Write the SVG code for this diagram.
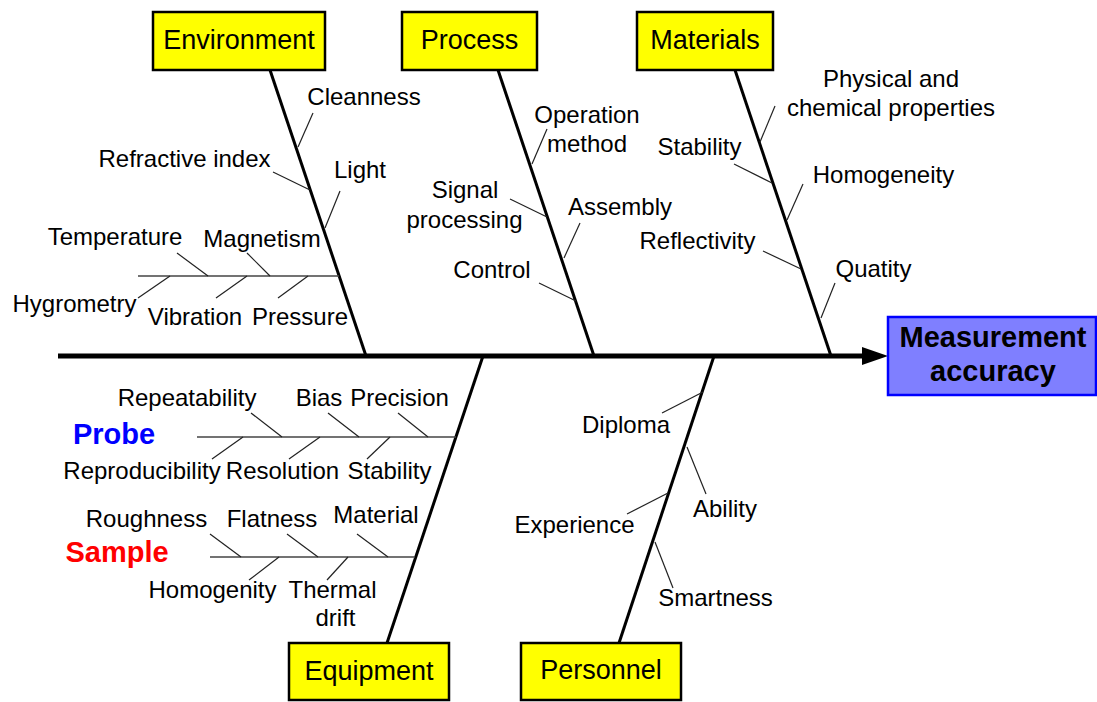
<svg xmlns="http://www.w3.org/2000/svg" width="1097" height="702" viewBox="0 0 1097 702">
<style>
text{font-family:"Liberation Sans",Arial,sans-serif;fill:#000;text-anchor:middle}
.lbl{font-size:24px}
.box{fill:#ffff00;stroke:#000;stroke-width:2.5}
.boxt{font-size:27px}
.bone{stroke:#000;stroke-width:3;fill:none}
.twig{stroke:#222;stroke-width:1.2;fill:none}
.sub{stroke:#444;stroke-width:1.5;fill:none}
.big{font-size:29px;font-weight:bold}
</style>
<rect width="1097" height="702" fill="#fff"/>
<g id="connectors">
<line x1="58" y1="356" x2="864" y2="356" stroke="#000" stroke-width="5"/>
<polygon points="862,347 888,356 862,365" fill="#000"/>
<line class="bone" x1="270" y1="70" x2="366" y2="356"/>
<line class="bone" x1="498" y1="70" x2="594" y2="356"/>
<line class="bone" x1="735" y1="70" x2="831" y2="356"/>
<line class="bone" x1="483" y1="356" x2="387" y2="643"/>
<line class="bone" x1="714" y1="356" x2="619" y2="643"/>
<!-- Environment -->
<line class="twig" x1="313" y1="113" x2="298" y2="147"/>
<line class="twig" x1="273" y1="172" x2="310" y2="190"/>
<line class="twig" x1="340" y1="191" x2="325" y2="228"/>
<line class="sub" x1="138" y1="276" x2="339" y2="276"/>
<line class="twig" x1="177" y1="253" x2="208" y2="276"/>
<line class="twig" x1="247" y1="253" x2="270" y2="276"/>
<line class="twig" x1="138" y1="298" x2="170" y2="276"/>
<line class="twig" x1="216" y1="298" x2="247" y2="276"/>
<line class="twig" x1="278" y1="298" x2="308" y2="276"/>
<!-- Process -->
<line class="twig" x1="547" y1="129" x2="532" y2="164"/>
<line class="twig" x1="510" y1="199" x2="547" y2="217"/>
<line class="twig" x1="580" y1="223" x2="564" y2="258"/>
<line class="twig" x1="539" y1="283" x2="576" y2="301"/>
<!-- Materials -->
<line class="twig" x1="775" y1="106" x2="760" y2="142"/>
<line class="twig" x1="734" y1="164" x2="772" y2="183"/>
<line class="twig" x1="803" y1="184" x2="787" y2="220"/>
<line class="twig" x1="763" y1="251" x2="801" y2="269"/>
<line class="twig" x1="835" y1="283" x2="821" y2="318"/>
<!-- Equipment: Probe -->
<line class="sub" x1="197" y1="437" x2="456" y2="437"/>
<line class="twig" x1="251" y1="413" x2="282" y2="437"/>
<line class="twig" x1="328" y1="413" x2="359" y2="437"/>
<line class="twig" x1="398" y1="413" x2="428" y2="437"/>
<line class="twig" x1="212" y1="459" x2="243" y2="437"/>
<line class="twig" x1="289" y1="459" x2="320" y2="437"/>
<line class="twig" x1="367" y1="459" x2="390" y2="437"/>
<!-- Equipment: Sample -->
<line class="sub" x1="210" y1="557" x2="415" y2="557"/>
<line class="twig" x1="210" y1="534" x2="241" y2="557"/>
<line class="twig" x1="287" y1="534" x2="318" y2="557"/>
<line class="twig" x1="357" y1="534" x2="388" y2="557"/>
<line class="twig" x1="249" y1="580" x2="279" y2="557"/>
<line class="twig" x1="327" y1="580" x2="348" y2="557"/>
<!-- Personnel -->
<line class="twig" x1="662" y1="413" x2="703" y2="392"/>
<line class="twig" x1="687" y1="447" x2="706" y2="494"/>
<line class="twig" x1="627" y1="514" x2="668" y2="493"/>
<line class="twig" x1="655" y1="542" x2="673" y2="588"/>
</g>
<g id="effect">
<rect x="888" y="317" width="208" height="78" fill="#7f7fff" stroke="#0000ff" stroke-width="2.5"/>
<text class="big" x="993" y="347">Measurement</text>
<text class="big" x="993" y="381">accuracy</text>
</g>
<g id="environment">
<rect class="box" x="153" y="12" width="172" height="58"/>
<text class="boxt" x="239" y="49">Environment</text>
<text class="lbl" x="364" y="105">Cleanness</text>
<text class="lbl" x="184.5" y="167">Refractive index</text>
<text class="lbl" x="360" y="178">Light</text>
<text class="lbl" x="115" y="245">Temperature</text>
<text class="lbl" x="262" y="247">Magnetism</text>
<text class="lbl" x="74.5" y="312">Hygrometry</text>
<text class="lbl" x="195" y="325">Vibration</text>
<text class="lbl" x="300" y="325">Pressure</text>
</g>
<g id="process">
<rect class="box" x="402" y="12" width="135" height="58"/>
<text class="boxt" x="469.5" y="49">Process</text>
<text class="lbl" x="587" y="123">Operation</text>
<text class="lbl" x="587" y="152">method</text>
<text class="lbl" x="465" y="198">Signal</text>
<text class="lbl" x="464.5" y="228">processing</text>
<text class="lbl" x="620" y="215">Assembly</text>
<text class="lbl" x="492" y="278">Control</text>
</g>
<g id="materials">
<rect class="box" x="637" y="12" width="136" height="58"/>
<text class="boxt" x="705" y="49">Materials</text>
<text class="lbl" x="891" y="87">Physical and</text>
<text class="lbl" x="891" y="116">chemical properties</text>
<text class="lbl" x="699.5" y="155">Stability</text>
<text class="lbl" x="883.5" y="183">Homogeneity</text>
<text class="lbl" x="697.5" y="249">Reflectivity</text>
<text class="lbl" x="873.5" y="277">Quatity</text>
</g>
<g id="equipment">
<rect class="box" x="289" y="643" width="160" height="57"/>
<text class="boxt" x="369" y="680">Equipment</text>
<text class="big" x="114" y="444" style="fill:#0000ff">Probe</text>
<text class="lbl" x="187" y="406">Repeatability</text>
<text class="lbl" x="319" y="406">Bias</text>
<text class="lbl" x="399.5" y="406">Precision</text>
<text class="lbl" x="142" y="479">Reproducibility</text>
<text class="lbl" x="282.5" y="479">Resolution</text>
<text class="lbl" x="389.5" y="479">Stability</text>
<text class="big" x="117" y="562" style="fill:#ff0000">Sample</text>
<text class="lbl" x="146.5" y="527">Roughness</text>
<text class="lbl" x="272" y="527">Flatness</text>
<text class="lbl" x="376" y="523">Material</text>
<text class="lbl" x="212.5" y="598">Homogenity</text>
<text class="lbl" x="332.5" y="598">Thermal</text>
<text class="lbl" x="335.5" y="626">drift</text>
</g>
<g id="personnel">
<rect class="box" x="521" y="643" width="160" height="57"/>
<text class="boxt" x="601" y="679">Personnel</text>
<text class="lbl" x="626" y="433">Diploma</text>
<text class="lbl" x="725" y="517">Ability</text>
<text class="lbl" x="574.5" y="533">Experience</text>
<text class="lbl" x="715.5" y="606">Smartness</text>
</g>
</svg>
